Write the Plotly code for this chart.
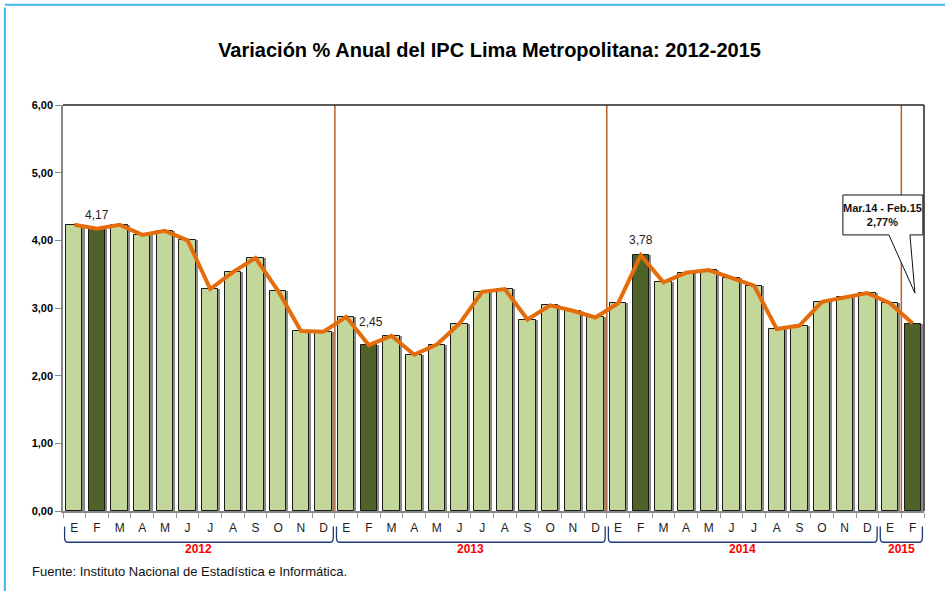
import plotly.graph_objects as go

# ---------------- data ----------------
months = ["E", "F", "M", "A", "M", "J", "J", "A", "S", "O", "N", "D"] * 3 + ["E", "F"]
values = [
    4.23, 4.17, 4.23, 4.08, 4.14, 4.00, 3.28, 3.53, 3.74, 3.25, 2.66, 2.65,   # 2012
    2.87, 2.45, 2.59, 2.31, 2.46, 2.77, 3.24, 3.28, 2.83, 3.04, 2.96, 2.86,   # 2013
    3.07, 3.78, 3.38, 3.52, 3.56, 3.45, 3.33, 2.69, 2.74, 3.09, 3.16, 3.22,   # 2014
    3.07, 2.77,                                                               # 2015
]
years = ["2012", "2013", "2014", "2015"]
year_counts = [12, 12, 12, 2]
highlight_idx = [1, 13, 25, 37]          # February bars (dark)
label_idx = [1, 13, 25]                  # bars with value labels
separators_at = [11.5, 23.5, 36.5]
callout_text = "Mar.14 - Feb.15<br>2,77%"
title = "Variación % Anual del IPC Lima Metropolitana: 2012-2015"
source = "Fuente: Instituto Nacional de Estadística e Informática."

LIGHT = "#C4D79B"
DARK = "#4F6228"
ORANGE = "#E46C0A"
SEP = "#B8612A"
NAVY = "#1F3A78"

n = len(values)
xs = list(range(n))
colors = [DARK if i in highlight_idx else LIGHT for i in xs]

def fmt(v):
    return f"{v:.2f}".replace(".", ",")

BW = 0.72
fig = go.Figure()
# bar shadow
fig.add_trace(go.Bar(
    x=xs, y=values, width=BW, offset=-BW / 2 + 0.09,
    marker=dict(color="#8a8a8a", line=dict(width=0)),
    hoverinfo="skip",
))
fig.add_trace(go.Bar(
    x=xs, y=values, width=BW, offset=-BW / 2,
    marker=dict(color=colors, line=dict(color="#1a1a1a", width=1)),
    hoverinfo="skip",
))
fig.add_trace(go.Scatter(
    x=xs, y=values, mode="lines",
    line=dict(color=ORANGE, width=4),
    hoverinfo="skip",
))

shapes = []
# year separators
for s in separators_at:
    shapes.append(dict(type="line", xref="x", yref="y", x0=s, x1=s, y0=0, y1=6,
                       line=dict(color=SEP, width=1.5), layer="below"))
# top and right frame
shapes.append(dict(type="line", xref="paper", yref="paper", x0=0, x1=1, y0=1, y1=1,
                   line=dict(color="#222", width=1.5)))
shapes.append(dict(type="line", xref="paper", yref="paper", x0=1, x1=1, y0=0, y1=1,
                   line=dict(color="#222", width=1.5)))

# year brackets (x in axis-domain fraction)
xr0, xr1 = -0.5, n - 0.5
def dom(x):
    return (x - xr0) / (xr1 - xr0)

annotations = []
start = 0
yt, yb = -0.038, -0.077
for yr, cnt in zip(years, year_counts):
    a = dom(start - 0.5 + 0.07)
    b = dom(start + cnt - 0.5 - 0.07)
    r = 0.004
    path = (f"M {a},{yt} L {a},{yb + 0.012} Q {a},{yb} {a + r},{yb} "
            f"L {b - r},{yb} Q {b},{yb} {b},{yb + 0.012} L {b},{yt}")
    shapes.append(dict(type="path", xref="x domain", yref="paper", path=path,
                       line=dict(color=NAVY, width=1.3)))
    annotations.append(dict(xref="x domain", yref="paper", x=(a + b) / 2, y=-0.094,
                            text=f"<b>{yr}</b>", showarrow=False,
                            font=dict(family="Liberation Sans, Arial", size=12, color="#FF0000"),
                            xanchor="center", yanchor="middle"))
    start += cnt

# callout box with tail (data coords)
bx0, bx1, by0, by1 = 33.92, 37.45, 4.08, 4.67
tx0, tx1, tipx, tipy = 35.95, 36.88, 37.1, 3.22
callout_path = (f"M {bx0},{by1} L {bx1},{by1} L {bx1},{by0} L {tx1},{by0} "
                f"L {tipx},{tipy} L {tx0},{by0} L {bx0},{by0} Z")
shapes.append(dict(type="path", xref="x", yref="y", path=callout_path,
                   fillcolor="white", line=dict(color="#111", width=1), layer="above"))
annotations.append(dict(xref="x", yref="y", x=(bx0 + bx1) / 2, y=(by0 + by1) / 2,
                        text=f"<b>{callout_text}</b>", showarrow=False,
                        font=dict(family="Liberation Sans, Arial", size=11, color="#111"),
                        xanchor="center", yanchor="middle", align="center"))

# value labels
label_shift = {1: 14, 13: 23, 25: 15}
label_dx = {1: 0, 13: 2, 25: 0}
for i in label_idx:
    annotations.append(dict(xref="x", yref="y", x=i, y=values[i], text=fmt(values[i]),
                            showarrow=False, yshift=label_shift[i], xshift=label_dx[i],
                            font=dict(family="Liberation Sans, Arial", size=12, color="#222"),
                            xanchor="center", yanchor="middle"))

# source
annotations.append(dict(xref="paper", yref="paper", x=-0.038, y=-0.15, text=source,
                        showarrow=False, xanchor="left", yanchor="middle",
                        font=dict(family="Liberation Sans, Arial", size=13, color="#111")))

# outer light-blue frame (left and top)
shapes.append(dict(type="line", xref="paper", yref="paper", x0=-0.0675, x1=-0.0675,
                   y0=-0.3, y1=1.24, line=dict(color="#3DB5EE", width=2)))
shapes.append(dict(type="line", xref="paper", yref="paper", x0=-0.0675, x1=1.1,
                   y0=1.247, y1=1.247, line=dict(color="#3DB5EE", width=2)))

fig.update_layout(
    width=945, height=591,
    margin=dict(l=63, r=21, t=105, b=80),
    paper_bgcolor="white", plot_bgcolor="white",
    separators=",.",
    showlegend=False,
    barmode="overlay",
    bargap=0,
    title=dict(text=f"<b>{title}</b>", x=0.518, xanchor="center", y=0.915, yanchor="middle",
               font=dict(family="Liberation Sans, Arial", size=20, color="#000")),
    shapes=shapes,
    annotations=annotations,
)
fig.update_xaxes(
    range=[xr0, xr1], tickmode="array", tickvals=xs, ticktext=months,
    ticks="", showgrid=False, zeroline=False, ticklabelstandoff=5,
    showline=True, linecolor="#888", linewidth=1.5,
    tickfont=dict(family="Liberation Sans, Arial", size=12, color="#222"),
    minor=dict(tickmode="linear", tick0=-0.5, dtick=1, ticks="outside", ticklen=5,
               tickcolor="#999", showgrid=False),
)
fig.update_yaxes(
    range=[0, 6], tickmode="array", tickvals=[0, 1, 2, 3, 4, 5, 6], tickformat=".2f",
    ticks="outside", ticklen=6, tickcolor="#888", showgrid=False, zeroline=False,
    showline=True, linecolor="#888", linewidth=1.5,
    tickfont=dict(family="Liberation Sans, Arial", size=11, color="#000", weight="bold"),
)

fig.write_html("out.html", post_script="document.body.style.margin='0';",
               config={"displayModeBar": False})
